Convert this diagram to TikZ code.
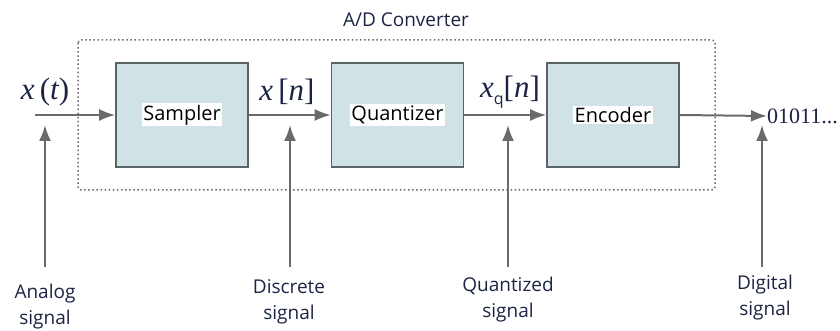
\documentclass[tikz,border=0pt]{standalone}
\usepackage{fontspec}
\setmainfont{Open Sans}
\newfontfamily\sigfont{Liberation Serif}
\usetikzlibrary{arrows.meta}
\definecolor{boxfill}{HTML}{D0E2E6}
\definecolor{boxline}{HTML}{5A6466}
\definecolor{wire}{HTML}{6A6A6A}
\definecolor{ink}{HTML}{1C2444}
\tikzset{
	block/.style={draw=boxline, line width=1.6pt, fill=boxfill, minimum width=132pt, minimum height=104pt},
	tag/.style={fill=white, inner sep=1.5pt, font=\fontsize{20}{20}\selectfont},
	sig/.style={draw=wire, line width=2pt, -{Latex[length=16pt,width=12pt]}},
	sigtext/.style={text=ink, font=\sigfont\fontsize{31}{31}\selectfont},
	note/.style={align=center, text=ink, font=\fontsize{19}{26}\selectfont}
}

\begin{document}
\begin{tikzpicture}[x=1pt, y=-1pt]
		\useasboundingbox (0,0) rectangle (840,331);
		\draw[wire, line width=1.5pt, dash pattern=on 1.5pt off 2.6pt, rounded corners=3pt] (78,40) rectangle (715,190);
		\node[note] (adc) at (406,20) {A/D Converter};
		\node[block] (sampler) at (182,115) {};
		\node[block] (quant) at (397.5,115) {};
		\node[block] (enc) at (613,115) {};
		\node[tag] at (sampler) {Sampler};
		\node[tag] at (quant) {Quantizer};
		\node[tag] at (enc) {Encoder};
		\coordinate (in) at (35,115);
		\node[anchor=west, inner sep=0pt, text=ink, font=\sigfont\fontsize{22}{22}\selectfont] (bits) at (767,116) {01011...};
		\draw[sig] (in) -- (sampler.west);
		\draw[sig] (sampler.east) -- (quant.west);
		\draw[sig] (quant.east) -- (enc.west);
		\draw[sig] (enc.east) -- (bits.west);
		\node[sigtext] (xt) at (45,92) {\itshape x\upshape\,(\itshape t\upshape)};
		\node[sigtext] (xn) at (287,92) {\itshape x\upshape\,[\itshape n\upshape]};
		\node[sigtext] (xq) at (510,92) {\itshape x\upshape\raisebox{-7pt}{\fontsize{16}{16}\selectfont\rmfamily q}[\itshape n\upshape]};
		\node[note] (analog) at (45,307) {Analog\\signal};
		\node[note] (discrete) at (289,302) {Discrete\\signal};
		\node[note] (quantized) at (508,300) {Quantized\\signal};
		\node[note] (digital) at (765,298) {Digital\\signal};
		\coordinate (a0) at (45,267);
		\coordinate (d0) at (290,267);
		\coordinate (q0) at (508,267);
		\coordinate (g0) at (762,267);
		\draw[sig] (a0) -- ++(0,-142);
		\draw[sig] (d0) -- ++(0,-142);
		\draw[sig] (q0) -- ++(0,-142);
		\draw[sig] (g0) -- ++(0,-142);
	\end{tikzpicture}
\end{document}
